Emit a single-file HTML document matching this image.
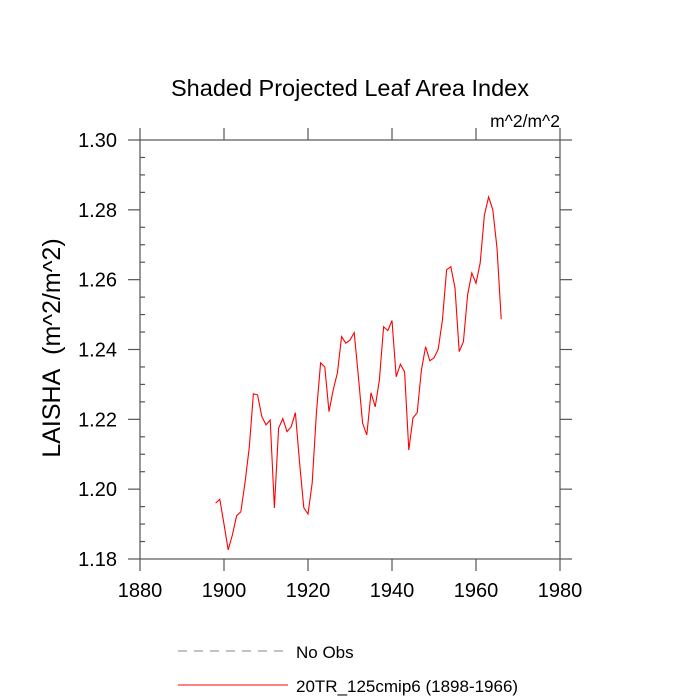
<!DOCTYPE html>
<html><head><meta charset="utf-8"><style>body{margin:0;background:#fff}svg{display:block}</style></head>
<body>
<svg id="c" width="700" height="700" xmlns="http://www.w3.org/2000/svg" font-family="Liberation Sans, sans-serif"></svg>
<script>
const years=[];for(let y=1898;y<=1966;y++)years.push(y);
const values=[1.196,1.1971,1.190,1.1826,1.1869,1.1924,1.1935,1.2018,1.2118,1.2273,1.227,1.2208,1.2184,1.2198,1.1946,1.2175,1.2202,1.2165,1.2179,1.2219,1.2075,1.1947,1.1929,1.2018,1.2218,1.2362,1.2350,1.2222,1.2284,1.2333,1.2437,1.2418,1.2427,1.2448,1.2322,1.2189,1.2155,1.2276,1.2236,1.2313,1.2465,1.2454,1.2483,1.2322,1.2358,1.2336,1.2112,1.2204,1.2219,1.2341,1.2408,1.2368,1.2376,1.2401,1.2484,1.2628,1.2637,1.2576,1.2394,1.2422,1.2556,1.2619,1.2590,1.2648,1.2785,1.2837,1.2800,1.2691,1.2487];
const xTicks=[1880,1900,1920,1940,1960,1980];
const yTicks=["1.18","1.20","1.22","1.24","1.26","1.28","1.30"];
const X0=140,X1=560,Y0=140,Y1=559;
const xs=v=>X0+(v-1880)/100*(X1-X0);
const ys=v=>Y1-(v-1.18)/0.12*(Y1-Y0);
const svg=document.getElementById('c');const NS='http://www.w3.org/2000/svg';
function mk(t,a,p){const e=document.createElementNS(NS,t);for(const k in a)e.setAttribute(k,a[k]);(p||svg).appendChild(e);return e;}
let e;
e=mk('text',{x:350,y:96,'text-anchor':'middle','font-size':23.5});e.textContent='Shaded Projected Leaf Area Index';


e=mk('text',{x:560,y:127,'text-anchor':'end','font-size':17.5});e.textContent='m^2/m^2';


e=mk('text',{x:0,y:0,'text-anchor':'middle','font-size':25,transform:'translate(60,348) rotate(-90)'});e.textContent='LAISHA\u00a0\u00a0(m^2/m^2)';


e=mk('rect',{x:X0,y:Y0,width:X1-X0,height:Y1-Y0,fill:'none',stroke:'#555','stroke-width':1.2});


const g=mk('g',{stroke:'#555','stroke-width':1.2});


for(let v=1880;v<=1980;v+=20){const x=xs(v);
 mk('line',{x1:x,x2:x,y1:Y1,y2:Y1+12},g);mk('line',{x1:x,x2:x,y1:Y0,y2:Y0-12},g);}
for(let i=0;i<=24;i++){const v=1.18+i*0.005;const y=ys(v);const maj=(i%4===0);
 if(maj){mk('line',{x1:X0,x2:X0-12,y1:y,y2:y},g);mk('line',{x1:X1,x2:X1+12,y1:y,y2:y},g);}
 else{mk('line',{x1:X0,x2:X0+5,y1:y,y2:y},g);mk('line',{x1:X1,x2:X1-5,y1:y,y2:y},g);}}
xTicks.forEach(v=>{const t=mk('text',{x:xs(v),y:Y1+38,'text-anchor':'middle','font-size':20});t.textContent=v;

});
yTicks.forEach(s=>{const t=mk('text',{x:X0-23,y:ys(parseFloat(s))+7,'text-anchor':'end','font-size':20});t.textContent=s;

});
const pts=years.map((y,i)=>xs(y).toFixed(1)+','+ys(values[i]).toFixed(1)).join(' ');
e=mk('polyline',{points:pts,fill:'none',stroke:'#f00','stroke-width':1.1});


e=mk('line',{x1:178,x2:288,y1:651,y2:651,stroke:'#888','stroke-dasharray':'9,7','stroke-width':1});


e=mk('text',{x:296,y:658,'font-size':17});e.textContent='No Obs';


e=mk('line',{x1:178,x2:288,y1:685,y2:685,stroke:'#f00','stroke-width':1});


e=mk('text',{x:296,y:692,'font-size':17});e.textContent='20TR_125cmip6 (1898-1966)';


</script>
</body></html>
